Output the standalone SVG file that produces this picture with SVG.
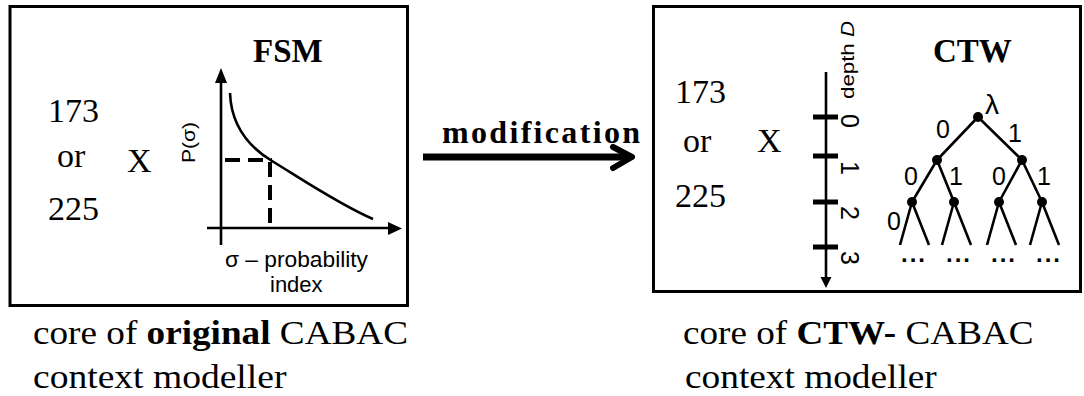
<svg xmlns="http://www.w3.org/2000/svg" width="1084" height="396" viewBox="0 0 1084 396">
<style>
.box{fill:#fff;stroke:#000;stroke-width:3}
.serif{font-family:"Liberation Serif","Times New Roman",serif;fill:#000}
.sans{font-family:"Liberation Sans",Arial,sans-serif;fill:#000}
.ln{stroke:#000;fill:none;stroke-width:2.6}
.dash{stroke:#000;fill:none;stroke-width:4;stroke-dasharray:15 8}
.tick{stroke:#000;stroke-width:5}
.nd{fill:#000}
.big{font-size:34px}
.lbl{font-size:25px}
</style>
<rect width="1084" height="396" fill="#fff"/>

<g id="fsm-box">
<rect class="box" x="10" y="6.5" width="397.5" height="299"/>
<text class="serif big" x="48" y="122">173</text>
<text class="serif big" x="57" y="167">or</text>
<text class="serif big" x="48" y="220">225</text>
<text class="serif big" x="127" y="172">X</text>
<text class="serif" x="253" y="62" font-size="33" font-weight="bold">FSM</text>
<line class="ln" x1="221" y1="80" x2="221" y2="245"/>
<polygon class="nd" points="215,83 227,83 221,68"/>
<line class="ln" x1="207" y1="228" x2="390" y2="228"/>
<polygon class="nd" points="388,222 388,235 402,228.5"/>
<path class="ln" d="M230,93 C231,120 244,144 272,161 C300,178 340,205 373,219"/>
<line class="dash" x1="225" y1="160" x2="272" y2="160"/>
<line class="dash" x1="270" y1="162" x2="270" y2="228"/>
<text class="sans" font-size="19" transform="translate(195,142.5) rotate(-90)" text-anchor="middle" textLength="41" lengthAdjust="spacingAndGlyphs">P(σ)</text>
<text class="sans" x="225" y="267" font-size="22" textLength="143" lengthAdjust="spacingAndGlyphs">σ – probability</text>
<text class="sans" x="270" y="292" font-size="22">index</text>
</g>

<g id="connectors">
<line x1="423" y1="157" x2="628" y2="157" stroke="#000" stroke-width="7"/>
<polyline points="613,147 632,157 613,168" fill="none" stroke="#000" stroke-width="6" stroke-linecap="round" stroke-linejoin="round"/>
<text class="serif" x="442" y="143" font-size="32" font-weight="bold" textLength="198" lengthAdjust="spacing">modification</text>
</g>

<g id="ctw-box">
<rect class="box" x="653.5" y="6.5" width="427" height="285"/>
<text class="serif big" x="675" y="103">173</text>
<text class="serif big" x="683" y="152">or</text>
<text class="serif big" x="675" y="207">225</text>
<text class="serif big" x="757" y="152">X</text>
<text class="serif" x="933" y="62" font-size="33" font-weight="bold">CTW</text>
<line class="ln" x1="826" y1="72" x2="826" y2="280"/>
<polygon class="nd" points="820.5,277 831.5,277 826,288"/>
<line class="tick" x1="813" y1="117" x2="838" y2="117"/>
<line class="tick" x1="813" y1="156" x2="838" y2="156"/>
<line class="tick" x1="813" y1="202" x2="838" y2="202"/>
<line class="tick" x1="813" y1="247" x2="838" y2="247"/>
<text class="sans" font-size="19" transform="translate(854,60) rotate(-90)" text-anchor="middle" textLength="78" lengthAdjust="spacingAndGlyphs">depth <tspan font-style="italic">D</tspan></text>
<text class="sans lbl" transform="translate(841,121) rotate(90)" text-anchor="middle">0</text>
<text class="sans lbl" transform="translate(841,168) rotate(90)" text-anchor="middle">1</text>
<text class="sans lbl" transform="translate(841,213) rotate(90)" text-anchor="middle">2</text>
<text class="sans lbl" transform="translate(841,258) rotate(90)" text-anchor="middle">3</text>
<g id="tree">
<path class="ln" d="M978,117 L937,160 M978,117 L1022,160 M937,160 L912,202 M937,160 L954,202 M1022,160 L999,202 M1022,160 L1042,202"/>
<path class="ln" d="M912,202 L900,245 M912,202 L929,245 M954,202 L942,245 M954,202 L971,245 M999,202 L987,245 M999,202 L1016,245 M1042,202 L1030,245 M1042,202 L1059,245"/>
<circle class="nd" cx="978" cy="117" r="5"/>
<circle class="nd" cx="937" cy="160" r="5"/>
<circle class="nd" cx="1022" cy="160" r="5"/>
<circle class="nd" cx="912" cy="202" r="5"/>
<circle class="nd" cx="954" cy="202" r="5"/>
<circle class="nd" cx="999" cy="202" r="5"/>
<circle class="nd" cx="1042" cy="202" r="5"/>
<text class="sans" x="985" y="114" font-size="28">λ</text>
<text class="sans lbl" x="936" y="138">0</text>
<text class="sans lbl" x="1008" y="142">1</text>
<text class="sans lbl" x="904" y="185">0</text>
<text class="sans lbl" x="949" y="185">1</text>
<text class="sans lbl" x="992" y="185">0</text>
<text class="sans lbl" x="1037" y="185">1</text>
<text class="sans lbl" x="887" y="230">0</text>
<text class="sans" x="901" y="262" font-size="24" font-weight="bold" textLength="24" lengthAdjust="spacing">...</text>
<text class="sans" x="946" y="262" font-size="24" font-weight="bold" textLength="24" lengthAdjust="spacing">...</text>
<text class="sans" x="991" y="262" font-size="24" font-weight="bold" textLength="24" lengthAdjust="spacing">...</text>
<text class="sans" x="1036" y="262" font-size="24" font-weight="bold" textLength="24" lengthAdjust="spacing">...</text>
</g>
</g>

<g id="captions">
<text class="serif big" transform="translate(33,344) scale(1.094,1)">core of <tspan font-weight="bold">original</tspan> CABAC</text>
<text class="serif big" transform="translate(33,388) scale(1.105,1)">context modeller</text>
<text class="serif big" transform="translate(683,344) scale(1.093,1)">core of <tspan font-weight="bold">CTW-</tspan> CABAC</text>
<text class="serif big" transform="translate(685,388) scale(1.098,1)">context modeller</text>
</g>
</svg>
